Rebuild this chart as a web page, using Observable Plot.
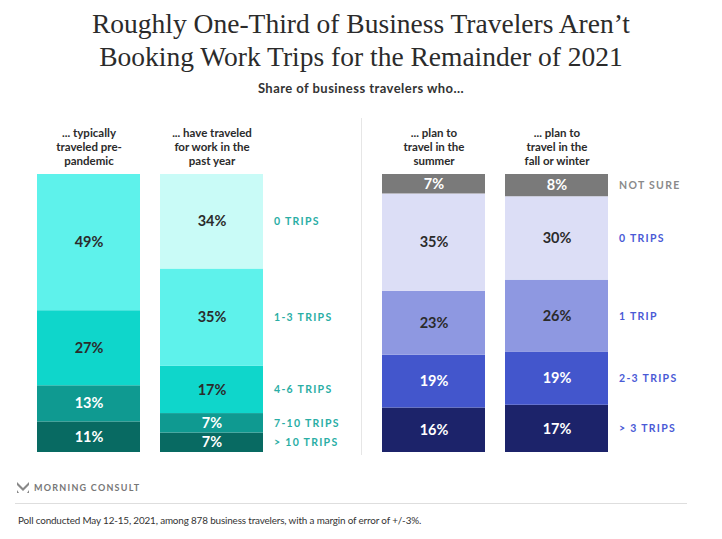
<!DOCTYPE html>
<html>
<head>
<meta charset="utf-8">
<script src="https://cdn.jsdelivr.net/npm/d3@7"></script>
<script src="https://cdn.jsdelivr.net/npm/@observablehq/plot@0.6"></script>
<style>
  html, body { margin: 0; padding: 0; background: #fff; }
  body { width: 722px; height: 539px; position: relative; overflow: hidden; font-family: Lato, "Noto Sans", sans-serif; }
  #title { position: absolute; top: 7px; left: 0; width: 722px; text-align: center; font-family: "Liberation Serif", serif; font-size: 27.5px; line-height: 33px; color: #2b2b2b; }
  #subtitle { position: absolute; top: 80px; left: 0; width: 722px; text-align: center; font-weight: 700; font-size: 13px; letter-spacing: 0.45px; color: #333; }
  #charts { position: absolute; top: 110px; left: 0; width: 722px; display: flex; }
  #sep { position: absolute; left: 361px; top: 118px; width: 1px; height: 337px; background: #e6e6e6; }
  #logo { position: absolute; top: 482px; left: 17px; display: flex; align-items: center; gap: 5px; font-weight: 700; font-size: 9px; letter-spacing: 1.25px; color: #777; }
  #rule { position: absolute; top: 503px; left: 15px; width: 672px; height: 1px; background: #dedede; }
  #note { position: absolute; top: 514px; left: 18px; font-size: 9.9px; color: #333; letter-spacing: -0.15px; }
  .trips { letter-spacing: 1.3px; }
</style>
</head>
<body>
<div id="title">Roughly One-Third of Business Travelers Aren’t<br>Booking Work Trips for the Remainder of 2021</div>
<div id="subtitle">Share of business travelers who...</div>
<div id="charts"></div>
<div id="sep"></div>
<div id="logo"><svg width="12" height="11" viewBox="0 0 12 11"><path d="M0 0 L6 6 L12 0 L12 3 L6 9 L0 3 Z" fill="#888"/><path d="M0 8 L2 11 L0 11 Z M12 8 L10 11 L12 11 Z" fill="#888"/></svg><span>MORNING CONSULT</span></div>
<div id="rule"></div>
<div id="note">Poll conducted May 12-15, 2021, among 878 business travelers, with a margin of error of +/-3%.</div>
<script>
// ---- data ----
const leftColumns = ["... typically\ntraveled pre-\npandemic", "... have traveled\nfor work in the\npast year"];
const leftCategories = ["> 10 TRIPS", "7-10 TRIPS", "4-6 TRIPS", "1-3 TRIPS", "0 TRIPS"]; // bottom to top
const prePandemic = [11, 13, 27, 49, 0];
const pastYear = [7, 7, 17, 35, 34];
const leftColors = ["#086a62", "#0f9a91", "#0fd6cb", "#5ef2eb", "#c9fbf7"];
const leftTextColors = ["#fff", "#fff", "#2b2b2b", "#2b2b2b", "#2b2b2b"];
const leftLabelColors = ["#2aaea5", "#2aaea5", "#2aaea5", "#2aaea5", "#2aaea5"];

const rightColumns = ["... plan to\ntravel in the\nsummer", "... plan to\ntravel in the\nfall or winter"];
const rightCategories = ["> 3 TRIPS", "2-3 TRIPS", "1 TRIP", "0 TRIPS", "NOT SURE"]; // bottom to top
const summer = [16, 19, 23, 35, 7];
const fallWinter = [17, 19, 26, 30, 8];
const rightColors = ["#1c236a", "#4356cc", "#8e98e1", "#dcdef6", "#7a7a7a"];
const rightTextColors = ["#fff", "#fff", "#2b2b2b", "#2b2b2b", "#fff"];
const rightLabelColors = ["#4a5ad6", "#4a5ad6", "#4a5ad6", "#4a5ad6", "#8a8a8a"];

function build(columns, categories, series, colors, textColors, labelColors, ml, mr) {
  const rows = [];
  columns.forEach((col, i) => {
    categories.forEach((cat, j) => {
      rows.push({col, cat, value: series[i][j], tc: textColors[j], lc: labelColors[j]});
    });
  });
  const lastCol = columns[columns.length - 1];
  const labelRows = rows.filter(d => d.col === lastCol);
  const svg = Plot.plot({
    width: 361,
    height: 350,
    marginTop: 64,
    marginBottom: 8,
    marginLeft: ml,
    marginRight: mr,
    x: {domain: columns, paddingInner: 0.163, paddingOuter: 0, axis: null},
    y: {domain: [0, 100], axis: null},
    color: {domain: categories, range: colors},
    marks: [
      Plot.barY(rows.filter(d => d.value > 0), Plot.stackY({x: "col", y: "value", fill: "cat"})),
      Plot.text(rows.filter(d => d.value > 0), Plot.stackY({
        x: "col", y: "value", text: d => d.value + "%", fill: "tc",
        fontSize: 14.5, fontWeight: 700
      })),
      Plot.text(labelRows, Plot.stackY({
        x: "col", y: "value", text: "cat", fill: "lc",
        textAnchor: "start", dx: 62, fontSize: 10.5, fontWeight: 700
      })),
      Plot.text(columns, {
        x: d => d, text: d => d, frameAnchor: "top", lineAnchor: "bottom",
        dy: -10, fontSize: 11.5, fontWeight: 700, fill: "#2b2b2b", lineHeight: 1.2
      })
    ],
    style: {fontFamily: "Lato, 'Noto Sans', sans-serif", background: "transparent"}
  });
  // trip-label mark is the second text layer
  const textGroups = svg.querySelectorAll('g[aria-label="text"]');
  if (textGroups[1]) textGroups[1].classList.add("trips");
  return svg;
}

const left = build(leftColumns, leftCategories, [prePandemic, pastYear], leftColors, leftTextColors, leftLabelColors, 37, 98);
const right = build(rightColumns, rightCategories, [summer, fallWinter], rightColors, rightTextColors, rightLabelColors, 20, 114);
document.getElementById("charts").append(left, right);
</script>
</body>
</html>
